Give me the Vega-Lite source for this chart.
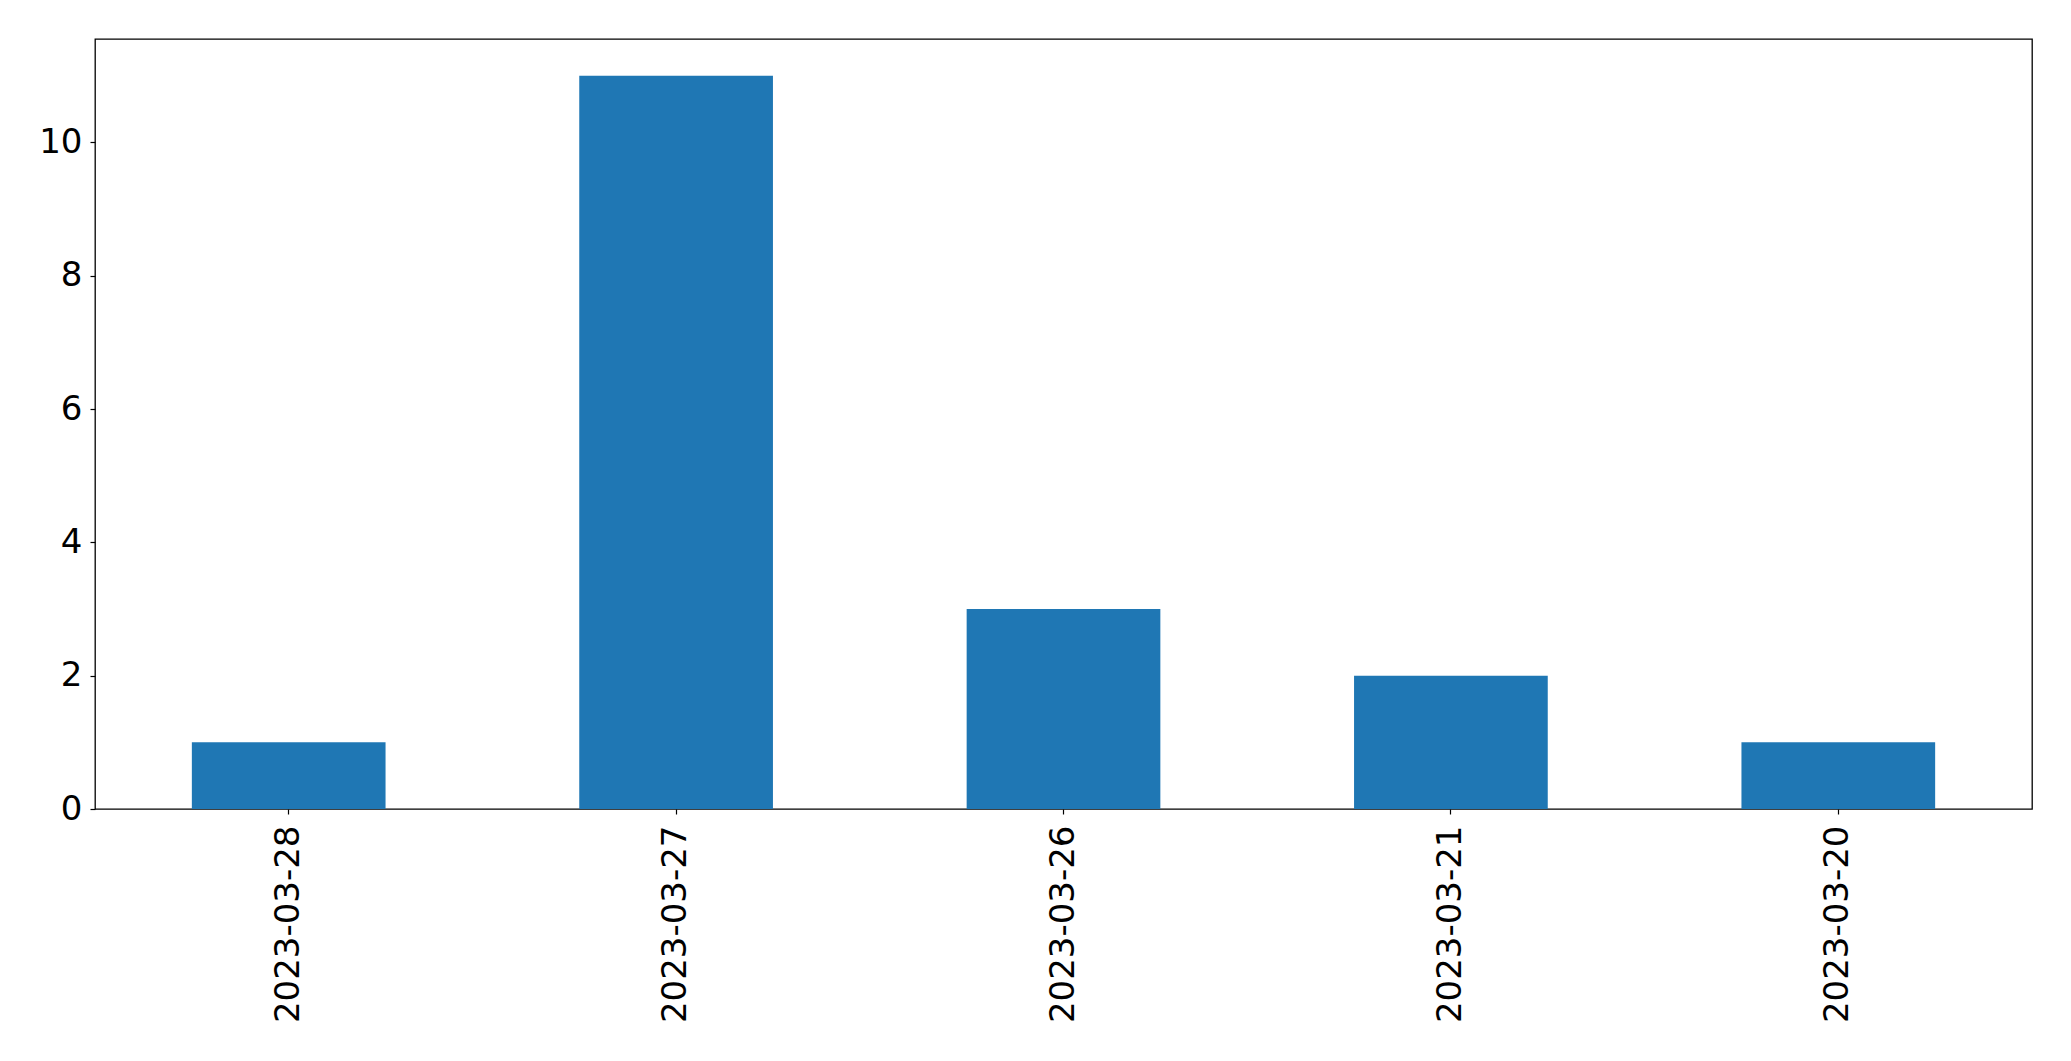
{
  "$schema": "https://vega.github.io/schema/vega-lite/v6.json",
  "width": 1937,
  "height": 770,
  "autosize": "none",
  "padding": {"left": 95, "top": 39, "right": 40, "bottom": 252},
  "background": "white",
  "config": {
    "font": "DejaVu Sans",
    "view": {"stroke": "black", "strokeWidth": 1.3},
    "axis": {
      "domain": false,
      "grid": false,
      "tickColor": "black",
      "tickSize": 5,
      "tickWidth": 1.2,
      "labelColor": "black",
      "labelFont": "DejaVu Sans",
      "labelFontSize": 34,
      "labelOverlap": false,
      "labelLimit": 500,
      "title": null
    }
  },
  "data": {
    "values": [
      {"date": "2023-03-28", "count": 1},
      {"date": "2023-03-27", "count": 11},
      {"date": "2023-03-26", "count": 3},
      {"date": "2023-03-21", "count": 2},
      {"date": "2023-03-20", "count": 1}
    ]
  },
  "mark": {"type": "bar", "color": "#1f77b4"},
  "encoding": {
    "x": {
      "field": "date",
      "type": "nominal",
      "sort": null,
      "scale": {"paddingInner": 0.5, "paddingOuter": 0.25},
      "axis": {"labelAngle": -90, "labelPadding": 11}
    },
    "y": {
      "field": "count",
      "type": "quantitative",
      "scale": {"domain": [0, 11.55], "nice": false, "zero": true},
      "axis": {"values": [0, 2, 4, 6, 8, 10], "labelPadding": 8}
    }
  }
}
